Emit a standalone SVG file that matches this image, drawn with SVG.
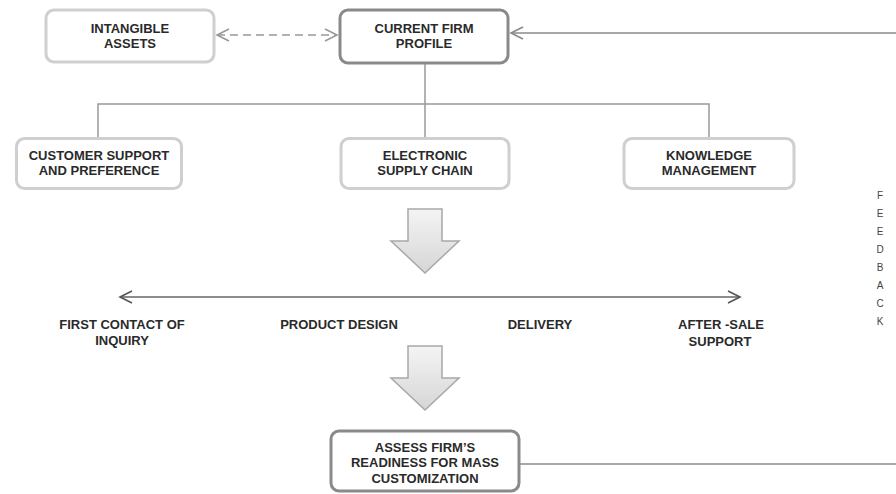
<svg xmlns="http://www.w3.org/2000/svg" width="896" height="494" viewBox="0 0 896 494">
  <defs>
    <linearGradient id="bigArrowFill" x1="0" y1="0" x2="0" y2="1">
      <stop offset="0" stop-color="#f4f4f4"/>
      <stop offset="1" stop-color="#d6d6d6"/>
    </linearGradient>
    <marker id="chevGrey" markerUnits="userSpaceOnUse" markerWidth="16" markerHeight="14" refX="13" refY="7" orient="auto-start-reverse">
      <path d="M1,1 L13,7 L1,13" fill="none" stroke="#999" stroke-width="1.6"/>
    </marker>
    <marker id="chevMid" markerUnits="userSpaceOnUse" markerWidth="16" markerHeight="14" refX="13" refY="7" orient="auto-start-reverse">
      <path d="M1,1 L13,7 L1,13" fill="none" stroke="#888" stroke-width="1.6"/>
    </marker>
    <marker id="chevDark" markerUnits="userSpaceOnUse" markerWidth="16" markerHeight="14" refX="13" refY="7" orient="auto-start-reverse">
      <path d="M1,1 L13,7 L1,13" fill="none" stroke="#555" stroke-width="1.6"/>
    </marker>
  </defs>
  <style>
    .box-light { fill: #ffffff; stroke: #cfcfcf; stroke-width: 3; }
    .box-dark { fill: #ffffff; stroke: #8a8a8a; stroke-width: 3; }
    .lbl { font-family: "Liberation Sans", Arial, sans-serif; font-weight: bold; font-size: 13px; fill: #2a2a2a; text-anchor: middle; }
    .fb { font-family: "Liberation Sans", Arial, sans-serif; font-size: 10px; fill: #444; text-anchor: middle; }
    .tree { fill: none; stroke: #999; stroke-width: 1.5; }
    .big-arrow { fill: url(#bigArrowFill); stroke: #a8a8a8; stroke-width: 1.5; stroke-linejoin: miter; }
  </style>

  <rect width="896" height="494" fill="#ffffff"/>

  <!-- connectors -->
  <g id="connectors">
    <!-- dashed two-way link between intangible assets and current profile -->
    <line x1="217" y1="35" x2="337" y2="35" stroke="#999" stroke-width="1.6" stroke-dasharray="8 5" marker-start="url(#chevGrey)" marker-end="url(#chevGrey)"/>
    <!-- feedback return into current profile -->
    <line x1="896" y1="33" x2="511" y2="33" stroke="#8a8a8a" stroke-width="1.6" marker-end="url(#chevMid)"/>
    <!-- branch tree -->
    <path class="tree" d="M425,64 V104 M98,138 V104 H709 V138 M425,104 V138"/>
    <!-- value chain axis -->
    <line x1="120" y1="297" x2="740" y2="297" stroke="#666" stroke-width="1.6" marker-start="url(#chevDark)" marker-end="url(#chevDark)"/>
    <!-- feedback leaving the assessment -->
    <line x1="520" y1="464" x2="896" y2="464" stroke="#8a8a8a" stroke-width="1.6"/>
    <!-- block arrows -->
    <polygon class="big-arrow" points="408,209 442,209 442,241 459,241 425,273 391,241 408,241"/>
    <polygon class="big-arrow" points="408,346 442,346 442,378 459,378 425,410 391,378 408,378"/>
  </g>

  <g id="intangible-assets">
    <rect class="box-light" x="46" y="10" width="168" height="52" rx="8"/>
    <text class="lbl" x="130" y="33">INTANGIBLE</text>
    <text class="lbl" x="130" y="48">ASSETS</text>
  </g>

  <g id="current-firm-profile">
    <rect class="box-dark" x="340" y="10" width="168" height="53" rx="8"/>
    <text class="lbl" x="424" y="33">CURRENT FIRM</text>
    <text class="lbl" x="424" y="48">PROFILE</text>
  </g>

  <g id="customer-support">
    <rect class="box-light" x="16.5" y="138.5" width="165" height="50" rx="8"/>
    <text class="lbl" x="99" y="160">CUSTOMER SUPPORT</text>
    <text class="lbl" x="99" y="175">AND PREFERENCE</text>
  </g>

  <g id="electronic-supply-chain">
    <rect class="box-light" x="341" y="138.5" width="168" height="50" rx="8"/>
    <text class="lbl" x="425" y="160">ELECTRONIC</text>
    <text class="lbl" x="425" y="175">SUPPLY CHAIN</text>
  </g>

  <g id="knowledge-management">
    <rect class="box-light" x="624" y="138.5" width="170" height="50" rx="8"/>
    <text class="lbl" x="709" y="160">KNOWLEDGE</text>
    <text class="lbl" x="709" y="175">MANAGEMENT</text>
  </g>

  <g id="value-chain-stages">
    <text class="lbl" x="122" y="329">FIRST CONTACT OF</text>
    <text class="lbl" x="122" y="345">INQUIRY</text>
    <text class="lbl" x="339" y="329">PRODUCT DESIGN</text>
    <text class="lbl" x="540" y="329">DELIVERY</text>
    <text class="lbl" x="721" y="329">AFTER -SALE</text>
    <text class="lbl" x="720" y="346">SUPPORT</text>
  </g>

  <g id="assess-readiness">
    <rect class="box-dark" x="331" y="431" width="188" height="60" rx="8"/>
    <text class="lbl" x="425" y="452">ASSESS FIRM’S</text>
    <text class="lbl" x="425" y="467">READINESS FOR MASS</text>
    <text class="lbl" x="425" y="483">CUSTOMIZATION</text>
  </g>

  <g id="feedback-label">
    <text class="fb" x="880" y="199">F</text>
    <text class="fb" x="880" y="217">E</text>
    <text class="fb" x="880" y="235">E</text>
    <text class="fb" x="880" y="253">D</text>
    <text class="fb" x="880" y="271">B</text>
    <text class="fb" x="880" y="289">A</text>
    <text class="fb" x="880" y="307">C</text>
    <text class="fb" x="880" y="325">K</text>
  </g>
</svg>
